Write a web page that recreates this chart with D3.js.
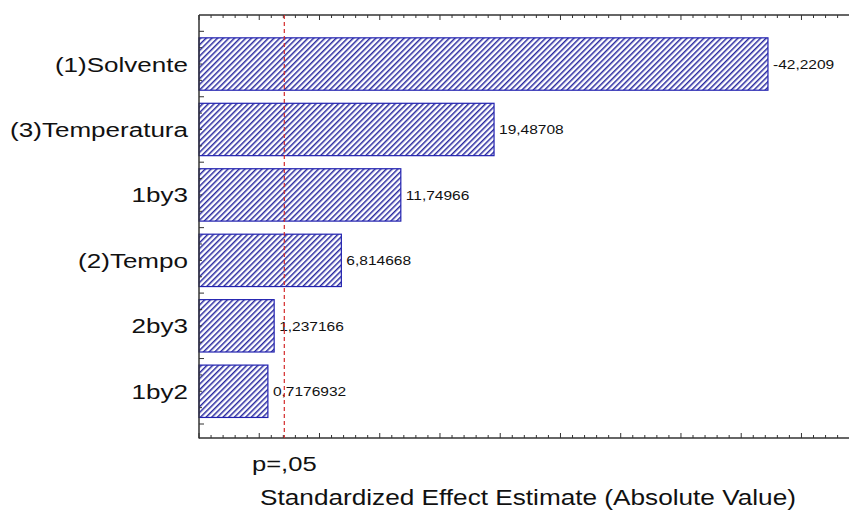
<!DOCTYPE html>
<html>
<head>
<meta charset="utf-8">
<script src="https://cdn.jsdelivr.net/npm/d3@7"></script>
<style>
  body { margin: 0; background: #fff; }
  svg { display: block; }
</style>
</head>
<body>
<svg id="pareto" width="849" height="510"></svg>
<script>
// effects (absolute standardized) and the printed labels
let factors = ["(1)Solvente", "(3)Temperatura", "1by3", "(2)Tempo", "2by3", "1by2"];
let effects = [42.2209, 19.48708, 11.74966, 6.814668, 1.237166, 0.7176932];
let effectLabels = ["-42,2209", "19,48708", "11,74966", "6,814668", "1,237166", "0,7176932"];
let pCrit = 2.08;
let pLabel = "p=,05";
let xDomain = [-5, 50];

let svg = d3.select('#pareto');
let plot = {t: 15, b: 438, l: 199};
let font = "Liberation Sans, Arial, sans-serif";

let x = d3.scaleLinear().domain(xDomain).range([plot.l, 861.7]);
let y = d3.scaleBand().domain(factors).range([31.3, 424])
    .paddingInner(0.2).paddingOuter(0.1);

// hatch pattern
let defs = svg.append("defs");
let pat = defs.append("pattern")
    .attr("id", "hatch")
    .attr("patternUnits", "userSpaceOnUse")
    .attr("width", 4).attr("height", 4)
    .attr("patternTransform", "rotate(45)");
pat.append("rect").attr("width", 4).attr("height", 4).attr("fill", "#ffffff");
pat.append("rect").attr("width", 1.5).attr("height", 4).attr("fill", "#2a2aa0");

// bars
svg.append("g").selectAll("rect")
    .data(effects)
    .enter()
    .append("rect")
    .attr("x", x(xDomain[0]))
    .attr("y", (d, i) => y(factors[i]))
    .attr("width", d => x(d) - x(xDomain[0]))
    .attr("height", y.bandwidth())
    .attr("fill", "url(#hatch)")
    .attr("stroke", "#2222b0")
    .attr("stroke-width", 1.2);

// value labels
svg.append("g").selectAll("text")
    .data(effects)
    .enter()
    .append("text")
    .attr("transform", (d, i) => "translate(" + (x(d) + 5) + "," + (y(factors[i]) + y.bandwidth() / 2) + ") scale(1.15,1)")
    .attr("dy", "0.36em")
    .attr("font-family", font)
    .attr("font-size", "13.5px")
    .attr("fill", "#111")
    .text((d, i) => effectLabels[i]);

// category labels
svg.append("g").selectAll("text")
    .data(factors)
    .enter()
    .append("text")
    .attr("transform", d => "translate(188," + (y(d) + y.bandwidth() / 2) + ") scale(1.24,1)")
    .attr("dy", "0.36em")
    .attr("text-anchor", "end")
    .attr("font-family", font)
    .attr("font-size", "21px")
    .attr("fill", "#111")
    .text(d => d);

// frame and ticks
let axisCol = "#333";
let minorX = d3.range(xDomain[0], xDomain[1] + 1, 1);
let axisG = svg.append("g").attr("stroke", axisCol).attr("stroke-width", 1);

axisG.append("line").attr("x1", plot.l).attr("x2", plot.l).attr("y1", plot.t).attr("y2", plot.b + 0.5)
    .attr("stroke-width", 1.5);
axisG.append("line").attr("x1", plot.l).attr("x2", 849).attr("y1", plot.b).attr("y2", plot.b)
    .attr("stroke-width", 1.5);
axisG.append("line").attr("x1", plot.l).attr("x2", 849).attr("y1", plot.t).attr("y2", plot.t)
    .attr("stroke-width", 1.5);

minorX.forEach(function(v) {
    let len = v % 5 === 0 ? 5 : 3;
    axisG.append("line").attr("x1", x(v)).attr("x2", x(v))
        .attr("y1", plot.b).attr("y2", plot.b - len);
    axisG.append("line").attr("x1", x(v)).attr("x2", x(v))
        .attr("y1", plot.t).attr("y2", plot.t + len);
});

let step = y.step();
let yTicks = d3.range(0, 6 * 4 + 1).map(k => 31.3 + k * step / 4);
yTicks.forEach(function(v, k) {
    let len = k % 4 === 0 ? 5 : 3;
    axisG.append("line").attr("x1", plot.l).attr("x2", plot.l + len)
        .attr("y1", v).attr("y2", v);
});

// critical line
svg.append("line")
    .attr("x1", x(pCrit)).attr("x2", x(pCrit))
    .attr("y1", plot.t).attr("y2", plot.b)
    .attr("stroke", "#d42a2a")
    .attr("stroke-width", 1.2)
    .attr("stroke-dasharray", "4,3");

svg.append("text")
    .attr("transform", "translate(" + x(pCrit) + ",471) scale(1.28,1)")
    .attr("text-anchor", "middle")
    .attr("font-family", font)
    .attr("font-size", "20px")
    .attr("fill", "#111")
    .text(pLabel);

svg.append("text")
    .attr("transform", "translate(528,505) scale(1.19,1)")
    .attr("text-anchor", "middle")
    .attr("font-family", font)
    .attr("font-size", "22px")
    .attr("fill", "#111")
    .text("Standardized Effect Estimate (Absolute Value)");
</script>
</body>
</html>
